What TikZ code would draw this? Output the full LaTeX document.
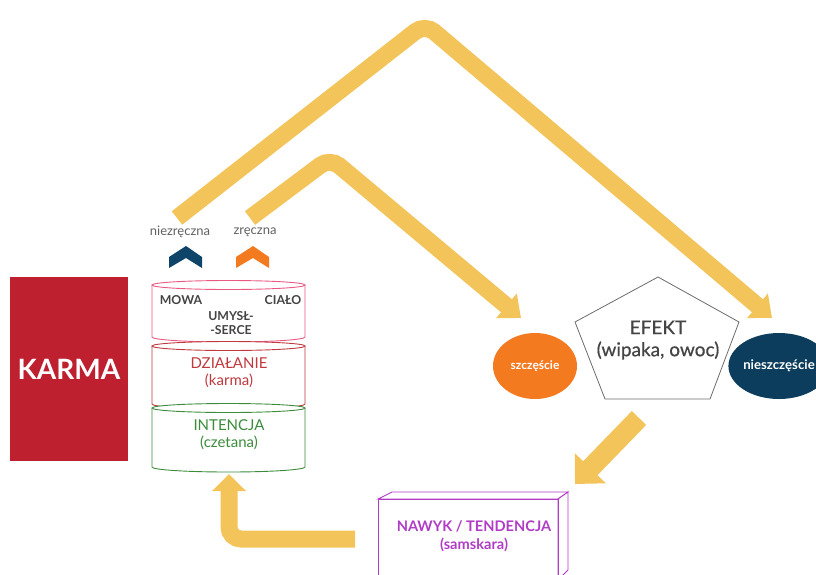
\documentclass[tikz,border=0pt]{standalone}
\usepackage{fontspec}
\setmainfont{Lato}
\usetikzlibrary{arrows.meta,shapes.geometric}
\definecolor{karmared}{HTML}{BE2030}
\definecolor{cylpink}{HTML}{E95A83}
\definecolor{cylred}{HTML}{C0393F}
\definecolor{cylgreen}{HTML}{3C8C3C}
\definecolor{flow}{HTML}{F2C45A}
\definecolor{navy}{HTML}{0E4468}
\definecolor{navydark}{HTML}{0D3D5C}
\definecolor{orng}{HTML}{F47A20}
\definecolor{purp}{HTML}{B03CC6}
\definecolor{txtgray}{HTML}{444444}
\begin{document}
\begin{tikzpicture}[x=1pt,y=-1pt,
  flowarrow/.style={draw=flow,line width=17pt,rounded corners=12pt,
    -{Triangle[width=31pt,length=19pt]}},
  cyltext/.style={align=center,font=\fontsize{15}{17}\selectfont},
  smallbold/.style={text=txtgray,font=\fontsize{12.3}{14}\selectfont\bfseries},
  lbl/.style={text=txtgray!85,font=\fontsize{13}{15}\selectfont},
  ovaltext/.style={ellipse,minimum width=84pt,minimum height=66pt,inner sep=0pt,
      text=white,font=\fontsize{12}{14}\selectfont\bfseries}
]
\useasboundingbox (0,0) rectangle (816,574);

% KARMA block
\node[fill=karmared,minimum width=118pt,minimum height=184pt,inner sep=0pt,
      text=white,font=\fontsize{28}{32}\selectfont\bfseries] (karma) at (69,369) {KARMA};

% cylinders
\foreach \top/\bot/\col [count=\i] in {285/337/cylpink, 346/404/cylred, 408/467/cylgreen}{
  \draw[\col,line width=0.9pt,fill=white] (152,\top) -- (152,\bot) arc[start angle=180,end angle=360,x radius=76.5pt,y radius=5pt] -- (305,\top);
  \draw[\col,line width=0.9pt,fill=white] (228.5,\top) ellipse[x radius=76.5pt,y radius=4.5pt];
}
\node[smallbold] (mowa) at (181,300) {MOWA};
\node[smallbold] (cialo) at (283,300) {CIAŁO};
\node[smallbold,align=center,font=\fontsize{12.3}{14.5}\selectfont\bfseries] (umysl) at (231,323) {UMYSŁ-\\-SERCE};
\node[cyltext,text=cylred] (dzial) at (229,373) {DZIAŁANIE\\(karma)};
\node[cyltext,text=cylgreen] (intencja) at (229,435) {INTENCJA\\(czetana)};

% chevrons
\fill[navy] (169,268) -- (169,257) -- (186,246) -- (202,257) -- (202,268) -- (186,258) -- cycle;
\fill[orng] (236,268) -- (236,257) -- (253,246) -- (269,257) -- (269,268) -- (253,258) -- cycle;
\node[lbl] (niezr) at (180,232) {niezręczna};
\node[lbl] (zr) at (255,232) {zręczna};

% effect nodes
\node[ovaltext,fill=orng] (szcz) at (535,366) {szczęście};
\node[ovaltext,fill=navydark,font=\fontsize{13.2}{15}\selectfont\bfseries] (niesz) at (779,366) {nieszczęście};
\draw[gray!85!black,line width=0.8pt,fill=white] (658,277) -- (739,322) -- (710,399) -- (605,399) -- (575,322) -- cycle;
\node[align=center,text=txtgray,font=\fontsize{19}{22}\selectfont\addfontfeature{FakeBold=0.6}] (efekt) at (658,340) {EFEKT\\(wipaka, owoc)};

% NAWYK box
\draw[purp,line width=0.9pt,fill=white] (378,499) -- (392,492) -- (568,492) -- (558,499) -- cycle;
\draw[purp,line width=0.9pt,fill=white] (558,499) -- (568,492) -- (568,570) -- (558,580) -- cycle;
\draw[purp,line width=0.9pt] (378,580) -- (378,499) -- (558,499) -- (558,580);
\node[align=center,text=purp,font=\fontsize{14.6}{18}\selectfont\bfseries] (nawyk) at (474,536) {NAWYK / TENDENCJA\\(samskara)};

% flow coordinates
\coordinate (s1) at (177,218);
\coordinate (p1) at (425,24);
\coordinate (t1) at (772,318);
\coordinate (s2) at (250,218);
\coordinate (p2) at (330,158);
\coordinate (t2) at (521,318);
\coordinate (s3) at (639,418);
\coordinate (t3) at (575,484);
\coordinate (s4) at (355,539);
\coordinate (c4) at (229,539);
\coordinate (t4) at (229,474);

\draw[flowarrow] (s1) -- (p1) -- (t1);
\draw[flowarrow] (s2) -- (p2) -- (t2);
\draw[draw=flow,line width=20pt,-{Triangle[width=42pt,length=22pt]}] (s3) -- (t3);
\draw[flowarrow,-{Triangle[width=33pt,length=17pt]}] (s4) -- (c4) -- (t4);
\end{tikzpicture}
\end{document}
